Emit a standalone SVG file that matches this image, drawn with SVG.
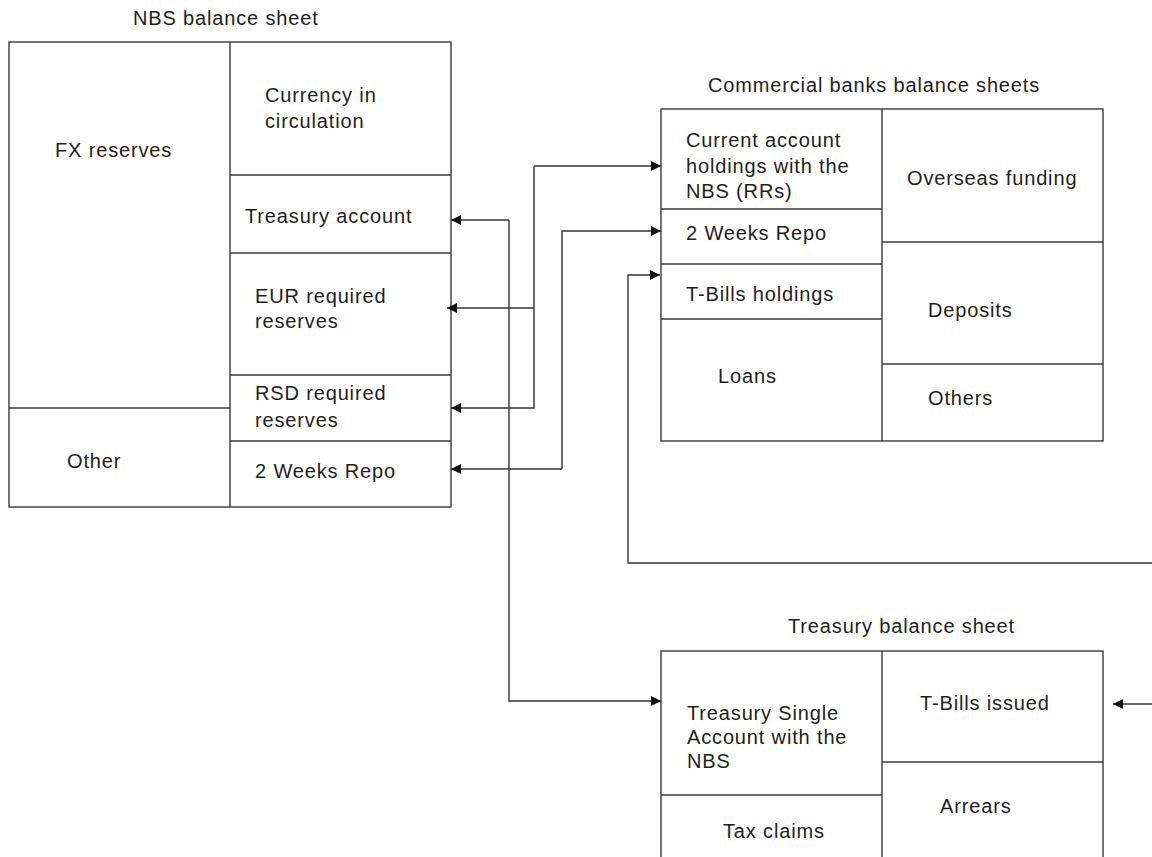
<svg xmlns="http://www.w3.org/2000/svg" width="1152" height="857" viewBox="0 0 1152 857">
<defs>
<style>
.box{fill:#fff;stroke:#3a3a3a;stroke-width:1.4}
.ln{fill:none;stroke:#3a3a3a;stroke-width:1.4}
.t{font-family:"Liberation Sans",Arial,sans-serif;font-size:20px;letter-spacing:0.85px;fill:#1e1e1e}
.conn{fill:none;stroke:#333;stroke-width:1.4;marker-end:url(#ah)}
</style>
<marker id="ah" markerUnits="userSpaceOnUse" markerWidth="11" markerHeight="10" refX="10" refY="5" orient="auto">
<path d="M0,0 L10,5 L0,10 z" fill="#111"/>
</marker>
</defs>
<rect width="1152" height="857" fill="#fff"/>

<g id="nbs">
<text class="t" x="133" y="25">NBS balance sheet</text>
<rect class="box" x="9" y="42" width="442" height="465"/>
<path class="ln" d="M230,42 V507 M230,175 H451 M230,253 H451 M230,375 H451 M230,441 H451 M9,408 H230"/>
<text class="t" x="55" y="157">FX reserves</text>
<text class="t" x="67" y="468">Other</text>
<text class="t" x="265" y="102">Currency in</text>
<text class="t" x="265" y="128">circulation</text>
<text class="t" x="245" y="223">Treasury account</text>
<text class="t" x="255" y="303">EUR required</text>
<text class="t" x="255" y="328">reserves</text>
<text class="t" x="255" y="400">RSD required</text>
<text class="t" x="255" y="427">reserves</text>
<text class="t" x="255" y="478">2 Weeks Repo</text>
</g>

<g id="banks">
<text class="t" x="708" y="92">Commercial banks balance sheets</text>
<rect class="box" x="661" y="109" width="442" height="332"/>
<path class="ln" d="M882,109 V441 M661,209 H882 M661,264 H882 M661,319 H882 M882,242 H1103 M882,364 H1103"/>
<text class="t" x="686" y="147">Current account</text>
<text class="t" x="686" y="173">holdings with the</text>
<text class="t" x="686" y="198">NBS (RRs)</text>
<text class="t" x="686" y="240">2 Weeks Repo</text>
<text class="t" x="686" y="301">T-Bills holdings</text>
<text class="t" x="718" y="383">Loans</text>
<text class="t" x="907" y="185">Overseas funding</text>
<text class="t" x="928" y="317">Deposits</text>
<text class="t" x="928" y="405">Others</text>
</g>

<g id="treasury">
<text class="t" x="788" y="633">Treasury balance sheet</text>
<rect class="box" x="661" y="651" width="442" height="230"/>
<path class="ln" d="M882,651 V881 M661,795 H882 M882,762 H1103"/>
<text class="t" x="687" y="720">Treasury Single</text>
<text class="t" x="687" y="744">Account with the</text>
<text class="t" x="687" y="768">NBS</text>
<text class="t" x="723" y="838">Tax claims</text>
<text class="t" x="920" y="710">T-Bills issued</text>
<text class="t" x="940" y="813">Arrears</text>
</g>

<g id="connectors">
<path class="conn" d="M534,166 H661"/>
<path class="conn" d="M534,166 V408 H451"/>
<path class="conn" d="M534,308 H447"/>
<path class="conn" d="M562,469 V231 H661"/>
<path class="conn" d="M562,469 H451"/>
<path class="conn" d="M509,220 H451"/>
<path class="conn" d="M509,220 V701 H661"/>
<path class="conn" d="M1152,563 H628 V275 H660"/>
<path class="conn" d="M1152,704 H1113"/>
</g>
</svg>
